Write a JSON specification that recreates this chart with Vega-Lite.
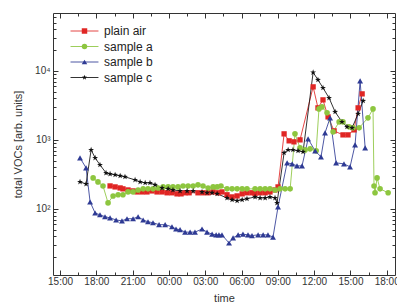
{
  "$schema": "https://vega.github.io/schema/vega-lite/v6.json",
  "width": 342,
  "height": 262,
  "autosize": {"type": "none"},
  "padding": {"left": 53, "top": 13, "right": 2, "bottom": 32},
  "config": {
    "font": "Liberation Sans",
    "view": {"stroke": "#333", "strokeWidth": 1},
    "axis": {"domain": false, "grid": false, "tickColor": "#333", "labelColor": "#333", "titleColor": "#333", "labelFontSize": 10, "titleFontSize": 11, "titleFontWeight": "normal"}
  },
  "data": {
    "format": {"parse": {"t": "date:'%d %H:%M'"}},
    "values": [
      {"s": "plain air", "t": "1 19:08", "v": 215}, {"s": "plain air", "t": "1 19:33", "v": 208}, {"s": "plain air", "t": "1 19:58", "v": 201}, {"s": "plain air", "t": "1 20:12", "v": 195}, {"s": "plain air", "t": "1 20:37", "v": 188}, {"s": "plain air", "t": "1 21:02", "v": 182}, {"s": "plain air", "t": "1 21:22", "v": 176}, {"s": "plain air", "t": "1 21:47", "v": 176}, {"s": "plain air", "t": "1 22:11", "v": 176}, {"s": "plain air", "t": "1 22:36", "v": 182}, {"s": "plain air", "t": "1 23:01", "v": 176}, {"s": "plain air", "t": "1 23:26", "v": 176}, {"s": "plain air", "t": "1 23:51", "v": 171}, {"s": "plain air", "t": "2 00:15", "v": 171}, {"s": "plain air", "t": "2 00:40", "v": 165}, {"s": "plain air", "t": "2 01:00", "v": 165}, {"s": "plain air", "t": "2 01:20", "v": 171}, {"s": "plain air", "t": "2 01:40", "v": 171}, {"s": "plain air", "t": "2 02:24", "v": 171}, {"s": "plain air", "t": "2 02:49", "v": 171}, {"s": "plain air", "t": "2 03:14", "v": 171}, {"s": "plain air", "t": "2 03:39", "v": 176}, {"s": "plain air", "t": "2 04:04", "v": 171}, {"s": "plain air", "t": "2 04:23", "v": 176}, {"s": "plain air", "t": "2 04:48", "v": 160}, {"s": "plain air", "t": "2 05:13", "v": 149}, {"s": "plain air", "t": "2 05:38", "v": 154}, {"s": "plain air", "t": "2 06:03", "v": 165}, {"s": "plain air", "t": "2 06:27", "v": 171}, {"s": "plain air", "t": "2 06:52", "v": 171}, {"s": "plain air", "t": "2 07:07", "v": 168}, {"s": "plain air", "t": "2 07:32", "v": 171}, {"s": "plain air", "t": "2 07:57", "v": 171}, {"s": "plain air", "t": "2 08:21", "v": 176}, {"s": "plain air", "t": "2 08:46", "v": 188}, {"s": "plain air", "t": "2 09:01", "v": 208}, {"s": "plain air", "t": "2 09:31", "v": 1222}, {"s": "plain air", "t": "2 09:56", "v": 968}, {"s": "plain air", "t": "2 10:20", "v": 936}, {"s": "plain air", "t": "2 10:50", "v": 1000}, {"s": "plain air", "t": "2 11:55", "v": 5865}, {"s": "plain air", "t": "2 12:19", "v": 2910}, {"s": "plain air", "t": "2 12:44", "v": 3800}, {"s": "plain air", "t": "2 13:09", "v": 2154}, {"s": "plain air", "t": "2 13:39", "v": 1350}, {"s": "plain air", "t": "2 14:23", "v": 1181}, {"s": "plain air", "t": "2 14:48", "v": 1181}, {"s": "plain air", "t": "2 15:18", "v": 1396}, {"s": "plain air", "t": "2 15:38", "v": 2910}, {"s": "plain air", "t": "2 15:58", "v": 4640},
      {"s": "sample a", "t": "1 17:44", "v": 281}, {"s": "sample a", "t": "1 18:08", "v": 246}, {"s": "sample a", "t": "1 18:33", "v": 215}, {"s": "sample a", "t": "1 18:58", "v": 122}, {"s": "sample a", "t": "1 19:23", "v": 154}, {"s": "sample a", "t": "1 19:48", "v": 160}, {"s": "sample a", "t": "1 20:12", "v": 160}, {"s": "sample a", "t": "1 20:37", "v": 176}, {"s": "sample a", "t": "1 21:02", "v": 176}, {"s": "sample a", "t": "1 21:27", "v": 188}, {"s": "sample a", "t": "1 21:52", "v": 195}, {"s": "sample a", "t": "1 22:16", "v": 195}, {"s": "sample a", "t": "1 22:41", "v": 195}, {"s": "sample a", "t": "1 23:06", "v": 201}, {"s": "sample a", "t": "1 23:31", "v": 208}, {"s": "sample a", "t": "1 23:56", "v": 208}, {"s": "sample a", "t": "2 00:20", "v": 208}, {"s": "sample a", "t": "2 00:45", "v": 208}, {"s": "sample a", "t": "2 01:10", "v": 215}, {"s": "sample a", "t": "2 01:35", "v": 215}, {"s": "sample a", "t": "2 02:00", "v": 215}, {"s": "sample a", "t": "2 02:24", "v": 223}, {"s": "sample a", "t": "2 02:49", "v": 215}, {"s": "sample a", "t": "2 03:14", "v": 201}, {"s": "sample a", "t": "2 03:39", "v": 208}, {"s": "sample a", "t": "2 03:59", "v": 208}, {"s": "sample a", "t": "2 04:18", "v": 215}, {"s": "sample a", "t": "2 04:48", "v": 195}, {"s": "sample a", "t": "2 05:13", "v": 195}, {"s": "sample a", "t": "2 05:38", "v": 195}, {"s": "sample a", "t": "2 06:03", "v": 195}, {"s": "sample a", "t": "2 06:27", "v": 195}, {"s": "sample a", "t": "2 07:07", "v": 195}, {"s": "sample a", "t": "2 07:32", "v": 195}, {"s": "sample a", "t": "2 07:57", "v": 195}, {"s": "sample a", "t": "2 08:21", "v": 195}, {"s": "sample a", "t": "2 08:46", "v": 188}, {"s": "sample a", "t": "2 09:11", "v": 195}, {"s": "sample a", "t": "2 09:36", "v": 195}, {"s": "sample a", "t": "2 10:01", "v": 195}, {"s": "sample a", "t": "2 10:25", "v": 1222}, {"s": "sample a", "t": "2 10:50", "v": 766}, {"s": "sample a", "t": "2 11:15", "v": 716}, {"s": "sample a", "t": "2 11:40", "v": 741}, {"s": "sample a", "t": "2 12:10", "v": 693}, {"s": "sample a", "t": "2 12:24", "v": 2812}, {"s": "sample a", "t": "2 12:39", "v": 3005}, {"s": "sample a", "t": "2 13:04", "v": 2462}, {"s": "sample a", "t": "2 13:34", "v": 1306}, {"s": "sample a", "t": "2 14:04", "v": 1823}, {"s": "sample a", "t": "2 14:23", "v": 1823}, {"s": "sample a", "t": "2 14:53", "v": 1543}, {"s": "sample a", "t": "2 15:13", "v": 1493}, {"s": "sample a", "t": "2 15:43", "v": 1493}, {"s": "sample a", "t": "2 16:27", "v": 2084}, {"s": "sample a", "t": "2 16:52", "v": 2812}, {"s": "sample a", "t": "2 16:57", "v": 215}, {"s": "sample a", "t": "2 17:02", "v": 171}, {"s": "sample a", "t": "2 17:12", "v": 281}, {"s": "sample a", "t": "2 17:27", "v": 195}, {"s": "sample a", "t": "2 18:07", "v": 171},
      {"s": "sample b", "t": "1 16:39", "v": 548}, {"s": "sample b", "t": "1 17:09", "v": 393}, {"s": "sample b", "t": "1 17:29", "v": 126}, {"s": "sample b", "t": "1 17:54", "v": 87}, {"s": "sample b", "t": "1 18:18", "v": 82}, {"s": "sample b", "t": "1 18:43", "v": 77}, {"s": "sample b", "t": "1 19:08", "v": 74}, {"s": "sample b", "t": "1 19:38", "v": 69}, {"s": "sample b", "t": "1 20:07", "v": 67}, {"s": "sample b", "t": "1 20:32", "v": 72}, {"s": "sample b", "t": "1 21:02", "v": 72}, {"s": "sample b", "t": "1 21:27", "v": 77}, {"s": "sample b", "t": "1 21:52", "v": 69}, {"s": "sample b", "t": "1 22:16", "v": 65}, {"s": "sample b", "t": "1 22:41", "v": 63}, {"s": "sample b", "t": "1 23:11", "v": 59}, {"s": "sample b", "t": "1 23:41", "v": 59}, {"s": "sample b", "t": "2 00:15", "v": 55}, {"s": "sample b", "t": "2 00:35", "v": 51}, {"s": "sample b", "t": "2 00:55", "v": 50}, {"s": "sample b", "t": "2 01:20", "v": 46}, {"s": "sample b", "t": "2 01:45", "v": 46}, {"s": "sample b", "t": "2 02:09", "v": 46}, {"s": "sample b", "t": "2 02:44", "v": 51}, {"s": "sample b", "t": "2 03:09", "v": 46}, {"s": "sample b", "t": "2 03:34", "v": 43}, {"s": "sample b", "t": "2 03:54", "v": 42}, {"s": "sample b", "t": "2 04:08", "v": 42}, {"s": "sample b", "t": "2 04:23", "v": 42}, {"s": "sample b", "t": "2 04:58", "v": 32}, {"s": "sample b", "t": "2 05:18", "v": 38}, {"s": "sample b", "t": "2 05:43", "v": 42}, {"s": "sample b", "t": "2 06:07", "v": 43}, {"s": "sample b", "t": "2 06:32", "v": 42}, {"s": "sample b", "t": "2 06:52", "v": 41}, {"s": "sample b", "t": "2 07:22", "v": 42}, {"s": "sample b", "t": "2 07:47", "v": 42}, {"s": "sample b", "t": "2 08:11", "v": 42}, {"s": "sample b", "t": "2 08:36", "v": 39}, {"s": "sample b", "t": "2 09:01", "v": 107}, {"s": "sample b", "t": "2 09:46", "v": 464}, {"s": "sample b", "t": "2 10:11", "v": 449}, {"s": "sample b", "t": "2 10:35", "v": 420}, {"s": "sample b", "t": "2 11:00", "v": 420}, {"s": "sample b", "t": "2 11:30", "v": 1033}, {"s": "sample b", "t": "2 12:05", "v": 693}, {"s": "sample b", "t": "2 12:34", "v": 567}, {"s": "sample b", "t": "2 12:54", "v": 1263}, {"s": "sample b", "t": "2 13:19", "v": 2084}, {"s": "sample b", "t": "2 13:49", "v": 464}, {"s": "sample b", "t": "2 14:28", "v": 449}, {"s": "sample b", "t": "2 14:58", "v": 406}, {"s": "sample b", "t": "2 15:23", "v": 847}, {"s": "sample b", "t": "2 15:48", "v": 7161}, {"s": "sample b", "t": "2 16:13", "v": 766},
      {"s": "sample c", "t": "1 16:39", "v": 246}, {"s": "sample c", "t": "1 17:09", "v": 230}, {"s": "sample c", "t": "1 17:34", "v": 716}, {"s": "sample c", "t": "1 17:54", "v": 548}, {"s": "sample c", "t": "1 18:18", "v": 434}, {"s": "sample c", "t": "1 18:48", "v": 332}, {"s": "sample c", "t": "1 19:08", "v": 321}, {"s": "sample c", "t": "1 19:33", "v": 311}, {"s": "sample c", "t": "1 19:58", "v": 301}, {"s": "sample c", "t": "1 20:22", "v": 291}, {"s": "sample c", "t": "1 21:12", "v": 263}, {"s": "sample c", "t": "1 21:37", "v": 246}, {"s": "sample c", "t": "1 22:02", "v": 238}, {"s": "sample c", "t": "1 22:26", "v": 238}, {"s": "sample c", "t": "1 22:51", "v": 223}, {"s": "sample c", "t": "1 23:26", "v": 201}, {"s": "sample c", "t": "1 23:56", "v": 195}, {"s": "sample c", "t": "2 00:20", "v": 188}, {"s": "sample c", "t": "2 00:55", "v": 182}, {"s": "sample c", "t": "2 01:30", "v": 182}, {"s": "sample c", "t": "2 02:00", "v": 182}, {"s": "sample c", "t": "2 02:44", "v": 176}, {"s": "sample c", "t": "2 03:09", "v": 171}, {"s": "sample c", "t": "2 03:34", "v": 171}, {"s": "sample c", "t": "2 03:59", "v": 165}, {"s": "sample c", "t": "2 04:48", "v": 144}, {"s": "sample c", "t": "2 05:13", "v": 135}, {"s": "sample c", "t": "2 05:38", "v": 131}, {"s": "sample c", "t": "2 06:03", "v": 135}, {"s": "sample c", "t": "2 06:27", "v": 140}, {"s": "sample c", "t": "2 07:07", "v": 149}, {"s": "sample c", "t": "2 07:32", "v": 144}, {"s": "sample c", "t": "2 07:57", "v": 144}, {"s": "sample c", "t": "2 08:21", "v": 149}, {"s": "sample c", "t": "2 08:46", "v": 144}, {"s": "sample c", "t": "2 08:56", "v": 122}, {"s": "sample c", "t": "2 09:31", "v": 648}, {"s": "sample c", "t": "2 09:51", "v": 716}, {"s": "sample c", "t": "2 10:15", "v": 716}, {"s": "sample c", "t": "2 10:40", "v": 693}, {"s": "sample c", "t": "2 11:05", "v": 670}, {"s": "sample c", "t": "2 11:55", "v": 9500}, {"s": "sample c", "t": "2 12:19", "v": 7413}, {"s": "sample c", "t": "2 12:44", "v": 5670}, {"s": "sample c", "t": "2 13:14", "v": 4060}, {"s": "sample c", "t": "2 13:44", "v": 2546}, {"s": "sample c", "t": "2 14:18", "v": 1823}, {"s": "sample c", "t": "2 14:43", "v": 1543}, {"s": "sample c", "t": "2 15:08", "v": 1493}, {"s": "sample c", "t": "2 15:38", "v": 2382}, {"s": "sample c", "t": "2 16:03", "v": 3675}
    ]
  },
  "layer": [
    {
      "mark": {"type": "line", "strokeWidth": 1, "opacity": 0.85},
      "encoding": {
        "x": {
          "field": "t", "type": "temporal", "title": "time",
          "scale": {"domain": [{"year": 1900, "month": 1, "date": 1, "hours": 14, "minutes": 25}, {"year": 1900, "month": 1, "date": 2, "hours": 18, "minutes": 41}]},
          "axis": {
            "orient": "bottom",
            "values": [
              {"year": 1900, "month": 1, "date": 1, "hours": 15}, {"year": 1900, "month": 1, "date": 1, "hours": 16, "minutes": 30},
              {"year": 1900, "month": 1, "date": 1, "hours": 18}, {"year": 1900, "month": 1, "date": 1, "hours": 19, "minutes": 30},
              {"year": 1900, "month": 1, "date": 1, "hours": 21}, {"year": 1900, "month": 1, "date": 1, "hours": 22, "minutes": 30},
              {"year": 1900, "month": 1, "date": 2, "hours": 0}, {"year": 1900, "month": 1, "date": 2, "hours": 1, "minutes": 30},
              {"year": 1900, "month": 1, "date": 2, "hours": 3}, {"year": 1900, "month": 1, "date": 2, "hours": 4, "minutes": 30},
              {"year": 1900, "month": 1, "date": 2, "hours": 6}, {"year": 1900, "month": 1, "date": 2, "hours": 7, "minutes": 30},
              {"year": 1900, "month": 1, "date": 2, "hours": 9}, {"year": 1900, "month": 1, "date": 2, "hours": 10, "minutes": 30},
              {"year": 1900, "month": 1, "date": 2, "hours": 12}, {"year": 1900, "month": 1, "date": 2, "hours": 13, "minutes": 30},
              {"year": 1900, "month": 1, "date": 2, "hours": 15}, {"year": 1900, "month": 1, "date": 2, "hours": 16, "minutes": 30},
              {"year": 1900, "month": 1, "date": 2, "hours": 18}
            ],
            "labelExpr": "minutes(datum.value) == 0 ? timeFormat(datum.value, '%H:%M') : ''",
            "tickSize": {"condition": {"test": "minutes(datum.value) == 0", "value": -5}, "value": -3},
            "labelPadding": 6,
            "labelFlush": false,
            "labelOverlap": false,
            "titlePadding": 4
          }
        },
        "y": {
          "field": "v", "type": "quantitative", "title": "total VOCs  [arb. units]",
          "scale": {"type": "log", "domain": [11, 69000], "nice": false},
          "axis": {
            "orient": "left",
            "values": [20, 30, 40, 50, 60, 70, 80, 90, 100, 200, 300, 400, 500, 600, 700, 800, 900, 1000, 2000, 3000, 4000, 5000, 6000, 7000, 8000, 9000, 10000, 20000, 30000, 40000, 50000, 60000],
            "labelExpr": "datum.value == 100 ? '10²' : datum.value == 1000 ? '10³' : datum.value == 10000 ? '10⁴' : ''",
            "tickSize": {"condition": {"test": "datum.value == 100 || datum.value == 1000 || datum.value == 10000", "value": -5}, "value": -3},
            "labelPadding": 8,
            "labelOverlap": false,
            "titlePadding": 11
          }
        },
        "color": {
          "field": "s", "type": "nominal",
          "scale": {"domain": ["plain air", "sample a", "sample b", "sample c"], "range": ["#e02624", "#8dc63f", "#2e3a94", "#111111"]},
          "legend": {
            "title": null, "orient": "none", "legendX": 25.5, "legendY": 12, "padding": 0,
            "symbolSize": 30, "symbolStrokeWidth": 1, "symbolType": "M-5.1,0H5.1",
            "labelFontSize": 12, "labelColor": "#222", "labelOffset": 13.5, "rowPadding": 3.5
          }
        }
      }
    },
    {
      "mark": {"type": "point", "filled": true, "opacity": 1},
      "encoding": {
        "x": {
          "field": "t", "type": "temporal",
          "scale": {"domain": [{"year": 1900, "month": 1, "date": 1, "hours": 14, "minutes": 25}, {"year": 1900, "month": 1, "date": 2, "hours": 18, "minutes": 41}]},
          "axis": {
            "orient": "top", "title": null, "labels": false,
            "values": [
              {"year": 1900, "month": 1, "date": 1, "hours": 15}, {"year": 1900, "month": 1, "date": 1, "hours": 16, "minutes": 30},
              {"year": 1900, "month": 1, "date": 1, "hours": 18}, {"year": 1900, "month": 1, "date": 1, "hours": 19, "minutes": 30},
              {"year": 1900, "month": 1, "date": 1, "hours": 21}, {"year": 1900, "month": 1, "date": 1, "hours": 22, "minutes": 30},
              {"year": 1900, "month": 1, "date": 2, "hours": 0}, {"year": 1900, "month": 1, "date": 2, "hours": 1, "minutes": 30},
              {"year": 1900, "month": 1, "date": 2, "hours": 3}, {"year": 1900, "month": 1, "date": 2, "hours": 4, "minutes": 30},
              {"year": 1900, "month": 1, "date": 2, "hours": 6}, {"year": 1900, "month": 1, "date": 2, "hours": 7, "minutes": 30},
              {"year": 1900, "month": 1, "date": 2, "hours": 9}, {"year": 1900, "month": 1, "date": 2, "hours": 10, "minutes": 30},
              {"year": 1900, "month": 1, "date": 2, "hours": 12}, {"year": 1900, "month": 1, "date": 2, "hours": 13, "minutes": 30},
              {"year": 1900, "month": 1, "date": 2, "hours": 15}, {"year": 1900, "month": 1, "date": 2, "hours": 16, "minutes": 30},
              {"year": 1900, "month": 1, "date": 2, "hours": 18}
            ],
            "tickSize": {"condition": {"test": "minutes(datum.value) == 0", "value": -5}, "value": -3}
          }
        },
        "y": {
          "field": "v", "type": "quantitative",
          "scale": {"type": "log", "domain": [11, 69000], "nice": false},
          "axis": {
            "orient": "right", "title": null, "labels": false,
            "values": [20, 30, 40, 50, 60, 70, 80, 90, 100, 200, 300, 400, 500, 600, 700, 800, 900, 1000, 2000, 3000, 4000, 5000, 6000, 7000, 8000, 9000, 10000, 20000, 30000, 40000, 50000, 60000],
            "tickSize": {"condition": {"test": "datum.value == 100 || datum.value == 1000 || datum.value == 10000", "value": -5}, "value": -3}
          }
        },
        "color": {
          "field": "s", "type": "nominal",
          "scale": {"domain": ["plain air", "sample a", "sample b", "sample c"], "range": ["#e02624", "#8dc63f", "#2e3a94", "#111111"]},
          "legend": {
            "title": null, "orient": "none", "legendX": 25.5, "legendY": 12, "padding": 0,
            "symbolSize": 30, "symbolStrokeWidth": 1,
            "labelFontSize": 12, "labelOpacity": 0, "labelOffset": 13.5, "rowPadding": 3.5
          }
        },
        "shape": {
          "field": "s", "type": "nominal",
          "scale": {"domain": ["plain air", "sample a", "sample b", "sample c"], "range": ["square", "circle", "triangle-up", "M0,-1L0.235,-0.324L0.951,-0.309L0.38,0.124L0.588,0.809L0,0.4L-0.588,0.809L-0.38,0.124L-0.951,-0.309L-0.235,-0.324Z"]},
          "legend": {
            "title": null, "orient": "none", "legendX": 25.5, "legendY": 12, "padding": 0,
            "symbolSize": 30, "symbolStrokeWidth": 1,
            "labelFontSize": 12, "labelOpacity": 0, "labelOffset": 13.5, "rowPadding": 3.5
          }
        },
        "size": {
          "field": "s", "type": "nominal", "legend": null,
          "scale": {"domain": ["plain air", "sample a", "sample b", "sample c"], "range": [28, 38, 44, 60]}
        }
      }
    }
  ],
  "resolve": {"axis": {"x": "independent", "y": "independent"}, "legend": {"color": "independent", "shape": "independent"}}
}
